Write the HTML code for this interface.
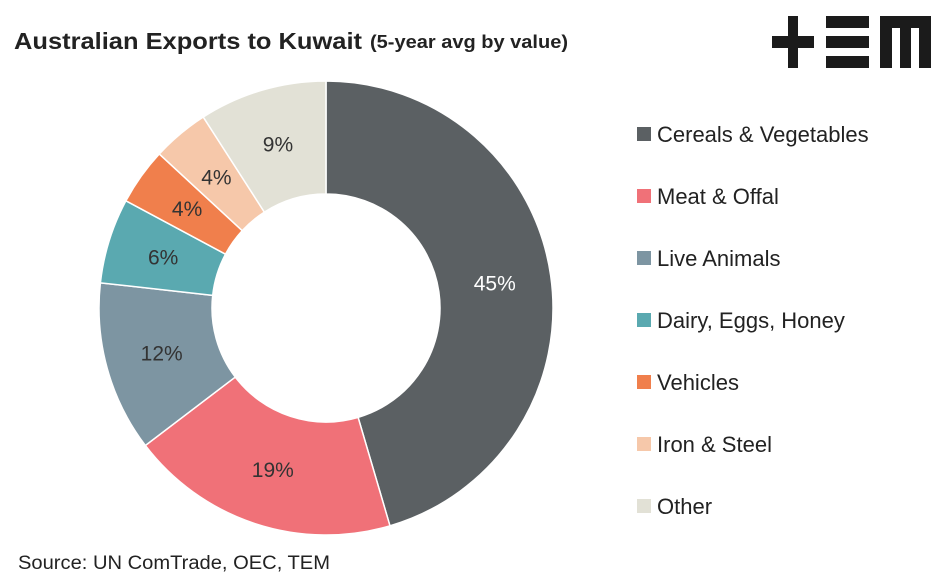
<!DOCTYPE html>
<html><head><meta charset="utf-8"><style>
body{margin:0;background:#fff;font-family:"Liberation Sans",sans-serif}
svg{display:block}
</style></head><body>
<svg id="c" width="947" height="583">
<text x="14" y="49" font-size="23" font-weight="bold" fill="#222" textLength="348" lengthAdjust="spacingAndGlyphs">Australian Exports to Kuwait</text>
<text x="370" y="48" font-size="18" font-weight="bold" fill="#222" textLength="198" lengthAdjust="spacingAndGlyphs">(5-year avg by value)</text>
<g fill="#1b1b1b">
<rect x="788" y="16" width="10" height="52"/><rect x="772" y="36" width="42" height="12"/>
<rect x="826" y="16" width="43" height="12"/><rect x="826" y="36" width="43" height="12"/><rect x="826" y="56" width="43" height="12"/>
<rect x="880" y="16" width="51" height="12"/><rect x="880" y="16" width="12" height="52"/><rect x="900" y="16" width="11" height="52"/><rect x="919" y="16" width="12" height="52"/>
</g>
<g id="slices"></g><g id="legend"></g>
<text x="18" y="569" font-size="19" fill="#222" textLength="312" lengthAdjust="spacingAndGlyphs">Source: UN ComTrade, OEC, TEM</text>
</svg>
<script>
const categories=["Cereals & Vegetables","Meat & Offal","Live Animals","Dairy, Eggs, Honey","Vehicles","Iron & Steel","Other"];
const values=[45,19,12,6,4,4,9];
const colors=["#5b6063","#f07178","#7d95a2","#5aa9b0","#f07f4c","#f6c8aa","#e2e1d6"];
const labelColors=["#fff","#333","#333","#333","#333","#333","#333"];
const cx=326,cy=308,R=227,r=114;
const total=values.reduce((a,b)=>a+b,0);
const ns="http://www.w3.org/2000/svg";
const g=document.getElementById('slices');
const pt=(a,rad)=>[cx+rad*Math.sin(a),cy-rad*Math.cos(a)];
let a0=0;
values.forEach((v,i)=>{
 const a1=a0+v/total*2*Math.PI;
 const [x1,y1]=pt(a0,R),[x2,y2]=pt(a1,R),[x3,y3]=pt(a1,r),[x4,y4]=pt(a0,r);
 const lg=(a1-a0)>Math.PI?1:0;
 const p=document.createElementNS(ns,'path');
 p.setAttribute('d',`M${x1},${y1}A${R},${R} 0 ${lg} 1 ${x2},${y2}L${x3},${y3}A${r},${r} 0 ${lg} 0 ${x4},${y4}Z`);
 p.setAttribute('fill',colors[i]);p.setAttribute('stroke','#fff');p.setAttribute('stroke-width','1.5');
 
 
 g.appendChild(p);
 const [lx,ly]=pt((a0+a1)/2,(R+r)/2);
 const t=document.createElementNS(ns,'text');
 t.setAttribute('x',lx);t.setAttribute('y',ly+7);t.setAttribute('text-anchor','middle');
 t.setAttribute('font-size','21');t.setAttribute('fill',labelColors[i]);
 t.textContent=v+'%';
 
 
 g.appendChild(t);
 a0=a1;
});
const lgd=document.getElementById('legend');
categories.forEach((c,i)=>{
 const y=134+i*62;
 const e=document.createElementNS(ns,'g');
 
 
 const s=document.createElementNS(ns,'rect');
 s.setAttribute('x',637);s.setAttribute('y',y-7);s.setAttribute('width',14);s.setAttribute('height',14);s.setAttribute('fill',colors[i]);
 const t=document.createElementNS(ns,'text');
 t.setAttribute('x',657);t.setAttribute('y',y+8);t.setAttribute('font-size','22');t.setAttribute('fill','#222');
 t.textContent=c;
 e.appendChild(s);e.appendChild(t);lgd.appendChild(e);
});
</script>
</body></html>
